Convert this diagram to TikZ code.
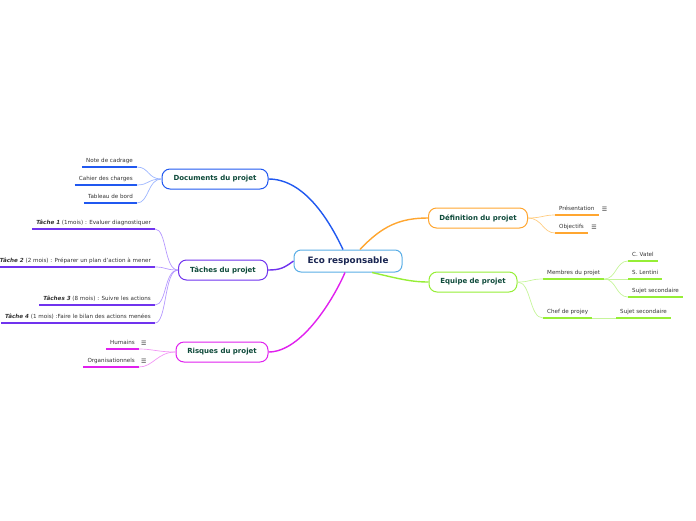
\documentclass[tikz,border=0pt]{standalone}
\usepackage{fontspec}
\setmainfont{DejaVu Sans}
\usetikzlibrary{positioning}
\definecolor{rootline}{HTML}{5AAEE6}
\definecolor{rootink}{HTML}{1A2652}
\definecolor{topicink}{HTML}{0E4A3A}
\definecolor{leafink}{HTML}{333333}
\definecolor{docblue}{HTML}{2058F0}
\definecolor{docsoft}{HTML}{9DB6FF}
\definecolor{taskviolet}{HTML}{7033EE}
\definecolor{tasksoft}{HTML}{B598FF}
\definecolor{riskpink}{HTML}{E020EE}
\definecolor{risksoft}{HTML}{F295F5}
\definecolor{deforange}{HTML}{FFA630}
\definecolor{defsoft}{HTML}{FFCC80}
\definecolor{teamgreen}{HTML}{96EE36}
\definecolor{teamsoft}{HTML}{C6F59A}

\begin{document}
\begin{tikzpicture}[x=1pt,y=-1pt,
  root/.style={draw=rootline,line width=1pt,fill=white,rounded corners=7pt,
    minimum width=108pt,minimum height=22pt,text=rootink,
    font=\fontsize{8.8}{10}\selectfont\bfseries},
  topic/.style={draw=#1,line width=1pt,fill=white,rounded corners=8pt,
    minimum height=20pt,text=topicink,font=\fontsize{7}{8}\selectfont\bfseries},
  leaf/.style={text=leafink,font=\fontsize{5.6}{6.5}\selectfont,inner xsep=4pt,
    inner ysep=3pt,text height=4.2pt,text depth=1.1pt},
  menu/.style={text=leafink,font=\fontsize{6}{7}\selectfont,inner sep=1pt,anchor=west},
  uline/.style={draw=#1,line width=2pt},
  twig/.style={draw=#1,line width=0.7pt},
  branch/.style={draw=#1,line width=1.4pt}]
  \useasboundingbox (0,0) rectangle (696,520);

  % centre
  \node[root] (eco) at (348,261) {Eco responsable};

  % main topics
  \node[topic=docblue,minimum width=106pt]    (docs) at (215,179) {Documents du projet};
  \node[topic=taskviolet,minimum width=89pt]  (tasks) at (223,270) {Tâches du projet};
  \node[topic=riskpink,minimum width=92pt]    (risks) at (222,352) {Risques du projet};
  \node[topic=deforange,minimum width=99pt]   (defn) at (478,218) {Définition du projet};
  \node[topic=teamgreen,minimum width=88pt]   (team) at (473,282) {Equipe de projet};

  \draw[branch=docblue] (docs.east) .. controls (305,179) and (330,222) .. ([xshift=-5pt]eco.north);
  \draw[branch=taskviolet] (tasks.east) .. controls (280,270) and (284,268) .. (eco.west);
  \draw[branch=riskpink] (risks.east) .. controls (302,352) and (334,298) .. ([xshift=-3pt]eco.south);
  \draw[branch=deforange] ([xshift=12pt]eco.north) .. controls (382,226) and (400,218) .. (defn.west);
  \draw[branch=teamgreen] ([xshift=24pt]eco.south) .. controls (396,278) and (410,282) .. (team.west);

  % Documents
  \node[leaf,anchor=south east] (note) at (137,167) {Note de cadrage};
  \node[leaf,anchor=south east] (cahier) at (137,185) {Cahier des charges};
  \node[leaf,anchor=south east] (tableau) at (137,203) {Tableau de bord};
  \foreach \lf in {note,cahier,tableau}{
    \draw[uline=docblue] (\lf.south west) -- (\lf.south east);
    \draw[twig=docsoft] (docs.west) .. controls +(-14,0) and +(12,0) .. (\lf.south east);
  }

  % Taches
  \node[leaf,anchor=south east] (t1) at (155,229)
       {\textbf{\textit{Tâche 1}} (1mois) : Evaluer diagnostiquer};
  \node[leaf,anchor=south east] (t2) at (155,267)
       {\textbf{\textit{Tâche 2}} (2 mois) : Préparer un plan d'action à mener};
  \node[leaf,anchor=south east] (t3) at (155,305)
       {\textbf{\textit{Tâches 3}} (8 mois) : Suivre les actions};
  \node[leaf,anchor=south east] (t4) at (155,323)
       {\textbf{\textit{Tâche 4}} (1 mois) :Faire le bilan des actions menées};
  \foreach \lf in {t1,t2,t3,t4}{
    \draw[uline=taskviolet] (\lf.south west) -- (\lf.south east);
    \draw[twig=tasksoft] (tasks.west) .. controls +(-14,0) and +(12,0) .. (\lf.south east);
  }

  % Risques
  \node[leaf,anchor=south east] (hum) at (139,349) {Humains};
  \node[leaf,anchor=south east] (orga) at (139,367) {Organisationnels};
  \foreach \lf in {hum,orga}{
    \draw[uline=riskpink] (\lf.south west) -- (\lf.south east);
    \draw[twig=risksoft] (risks.west) .. controls +(-18,0) and +(14,0) .. (\lf.south east);
    \node[menu] (\lf-m) at ([xshift=1pt]\lf.east) {☰};
  }

  % Definition
  \node[leaf,anchor=south west] (pres) at (555,215) {Présentation};
  \node[leaf,anchor=south west] (obj) at (555,233) {Objectifs};
  \foreach \lf in {pres,obj}{
    \draw[uline=deforange] (\lf.south west) -- (\lf.south east);
    \draw[twig=defsoft] (defn.east) .. controls +(14,0) and +(-12,0) .. (\lf.south west);
    \node[menu] (\lf-m) at ([xshift=2pt]\lf.east) {☰};
  }

  % Equipe
  \node[leaf,anchor=south west] (memb) at (543,279) {Membres du projet};
  \node[leaf,anchor=south west] (chef) at (543,318) {Chef de projey};
  \foreach \lf in {memb,chef}{
    \draw[uline=teamgreen] (\lf.south west) -- (\lf.south east);
    \draw[twig=teamsoft] (team.east) .. controls +(14,0) and +(-14,0) .. (\lf.south west);
  }
  \node[leaf,anchor=south west] (vatel) at (628,261) {C. Vatel};
  \node[leaf,anchor=south west] (lent) at (628,279) {S. Lentini};
  \node[leaf,anchor=south west] (sujA) at (628,297) {Sujet secondaire};
  \foreach \lf in {vatel,lent,sujA}{
    \draw[uline=teamgreen] (\lf.south west) -- (\lf.south east);
    \draw[twig=teamsoft] (memb.south east) .. controls +(12,0) and +(-12,0) .. (\lf.south west);
  }
  \node[leaf,anchor=south west] (sujB) at (616,318) {Sujet secondaire};
  \draw[uline=teamgreen] (sujB.south west) -- (sujB.south east);
  \draw[twig=teamsoft] (chef.south east) -- (sujB.south west);
\end{tikzpicture}
\end{document}
